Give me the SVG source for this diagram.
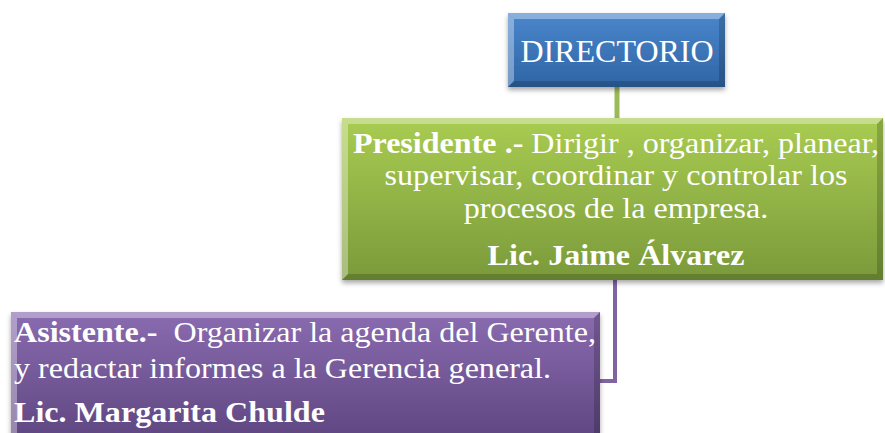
<svg xmlns="http://www.w3.org/2000/svg" width="885" height="433" viewBox="0 0 885 433">
<defs>
<linearGradient id="gBlue" x1="0" y1="0" x2="0" y2="1">
<stop offset="0" stop-color="#4a86cc"/><stop offset="1" stop-color="#2f65a5"/>
</linearGradient>
<linearGradient id="gGreen" x1="0" y1="0" x2="0" y2="1">
<stop offset="0" stop-color="#a9cc52"/><stop offset="1" stop-color="#7a9a3a"/>
</linearGradient>
<linearGradient id="gPurple" x1="0" y1="0" x2="0" y2="1">
<stop offset="0" stop-color="#8a6bb0"/><stop offset="1" stop-color="#5e4680"/>
</linearGradient>
<filter id="sh" x="-5%" y="-10%" width="110%" height="125%">
<feDropShadow dx="0" dy="3" stdDeviation="2.5" flood-color="#000" flood-opacity="0.35"/>
</filter>
</defs>
<style>
.t{font-family:"Liberation Serif","Times New Roman",serif;fill:#fff;font-size:30px}
.b{font-weight:bold}
.hl{fill:#fff;opacity:0.35}
.dk{fill:#000;opacity:0.18}
</style>
<g id="connectors" fill="none">
<line x1="617" y1="87" x2="617" y2="118" stroke="#9bbb59" stroke-width="5"/>
<path d="M615 280 V381 H600" stroke="#8064a2" stroke-width="4"/>
</g>
<g id="directorio">
<rect x="508" y="13" width="217" height="74" fill="url(#gBlue)" filter="url(#sh)"/>
<polygon class="hl" points="508,13 725,13 719,19 514,19"/>
<polygon class="hl" points="508,13 514,19 514,81 508,87"/>
<polygon class="dk" points="725,13 725,87 719,81 719,19"/>
<polygon class="dk" points="508,87 725,87 719,81 514,81"/>
<text class="t" x="617" y="62" style="font-size:32px" text-anchor="middle">DIRECTORIO</text>
</g>
<g id="presidente">
<rect x="342" y="118" width="541" height="162" fill="url(#gGreen)" filter="url(#sh)"/>
<polygon class="hl" points="342,118 883,118 877,124 348,124"/>
<polygon class="hl" points="342,118 348,124 348,274 342,280"/>
<polygon class="dk" points="883,118 883,280 877,274 877,124"/>
<polygon class="dk" points="342,280 883,280 877,274 348,274"/>
<g transform="translate(616 0) scale(1.07 1)">
<text class="t" x="0" y="153" text-anchor="middle"><tspan class="b">Presidente .-</tspan> Dirigir , organizar, planear,</text>
<text class="t" x="0" y="185" text-anchor="middle">supervisar, coordinar y controlar los</text>
<text class="t" x="0" y="218" text-anchor="middle">procesos de la empresa.</text>
<text class="t b" x="0" y="265" text-anchor="middle">Lic. Jaime Álvarez</text>
</g>
</g>
<g id="asistente">
<rect x="11" y="312" width="589" height="130" fill="url(#gPurple)" filter="url(#sh)"/>
<polygon class="hl" points="11,312 600,312 594,318 17,318"/>
<polygon class="hl" points="11,312 17,318 17,442 11,442"/>
<polygon class="dk" points="600,312 600,442 594,442 594,318"/>
<g transform="translate(14 0) scale(1.07 1)">
<text class="t" x="0" y="342" xml:space="preserve"><tspan class="b">Asistente.-</tspan>  Organizar la agenda del Gerente,</text>
<text class="t" x="0" y="378">y redactar informes a la Gerencia general.</text>
<text class="t b" x="0" y="422">Lic. Margarita Chulde</text>
</g>
</g>
</svg>
